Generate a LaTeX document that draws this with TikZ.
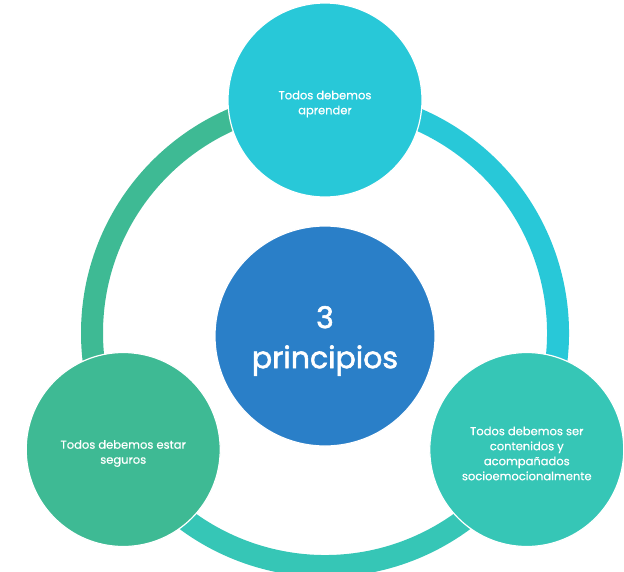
\documentclass[tikz,border=0pt]{standalone}
\usepackage{fontspec}
\setmainfont{Poppins}
\newfontfamily\hubfont[FakeBold=1.8]{Poppins}
\newfontfamily\bubfont[FakeBold=0.6]{Poppins}
\usetikzlibrary{backgrounds,calc}
\definecolor{cyanc}{HTML}{28C8D8}
\definecolor{greenc}{HTML}{3EBA94}
\definecolor{tealc}{HTML}{36C6B6}
\definecolor{bluec}{HTML}{2A7FC8}
\tikzset{
  bubble/.style={circle, draw=white, line width=1.2pt, minimum size=194pt, inner sep=0pt},
  bubbletext/.style={text=white, align=center, font=\bubfont\fontsize{11.5}{15}\selectfont, yshift=-4pt},
  hub/.style={circle, draw=white, line width=1.2pt, minimum size=220pt, inner sep=0pt, fill=bluec},
  hubtext/.style={text=white, align=center, font=\hubfont\fontsize{30}{40}\selectfont, yshift=-5pt},
  ring/.style={line width=22pt}
}
\begin{document}
\begin{tikzpicture}[x=1pt,y=1pt]
\useasboundingbox (0,0) rectangle (624,-571);
\coordinate (c) at (325,-333);
\node[hub, label={[hubtext]center:{3\\principios}}] (hub) at (325,-336) {};
\node[bubble, fill=cyanc, label={[bubbletext]center:{Todos debemos\\aprender}}] (top) at ($(c)+(90:233)$) {};
\node[bubble, fill=greenc, label={[bubbletext]center:{Todos debemos estar\\seguros}}] (left) at ($(c)+(210:233)$) {};
\node[bubble, fill=tealc, label={[bubbletext]center:{Todos debemos ser\\contenidos y\\acompañados\\socioemocionalmente}}] (right) at ($(c)+(330:233)$) {};
\begin{scope}[on background layer]
\fill[white] (0,0) rectangle (624,-571);
\begin{scope}
\clip (0,0) rectangle (624,-571);
\draw[ring, greenc] (top.center) arc[start angle=90, end angle=210, radius=233];
\draw[ring, cyanc] (right.center) arc[start angle=-30, end angle=90, radius=233];
\draw[ring, tealc] (left.center) arc[start angle=210, end angle=330, radius=233];
\end{scope}
\end{scope}
\end{tikzpicture}
\end{document}
